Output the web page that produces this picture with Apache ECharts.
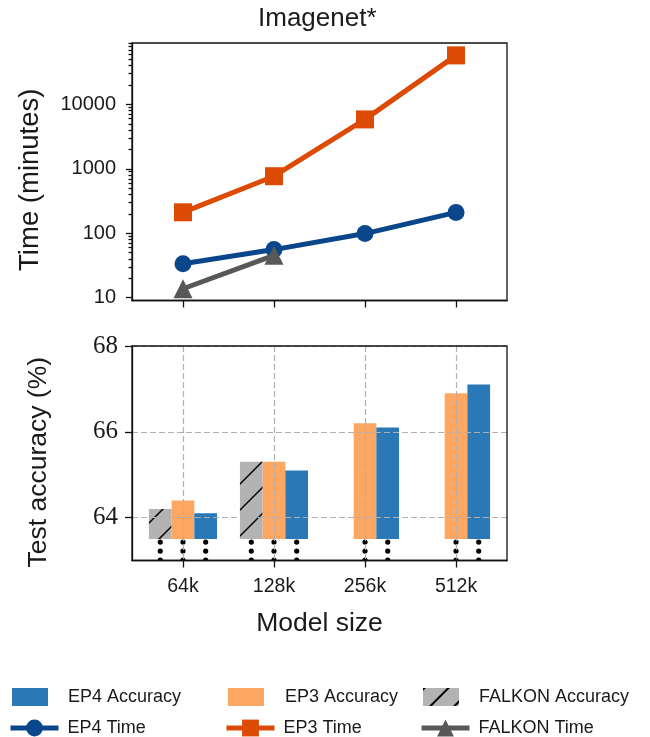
<!DOCTYPE html>
<html><head><meta charset="utf-8">
<script src="https://cdn.jsdelivr.net/npm/echarts@6/dist/echarts.min.js"></script>
<style>html,body{margin:0;padding:0;background:#fff}#c{width:650px;height:737px}</style>
</head><body><div id="c"></div>
<script>
// ---- data ----
const categories = ['64k', '128k', '256k', '512k'];
const ep4Time = [33.4, 55.6, 98.6, 210];
const ep3Time = [211, 767, 5850, 57800];
const falkonTime = [13.7, 45.3, null, null];
const falkonAcc = [64.2, 65.3, null, null];
const ep3Acc = [64.4, 65.3, 66.2, 66.9];
const ep4Acc = [64.1, 65.1, 66.1, 67.1];
const timeTickLabels = [10, 100, 1000, 10000];
const accTickLabels = [64, 66, 68];
const accBase = 63.5;

// ---- styles ----
const SANS = 'Liberation Sans';
const SERIF = 'Liberation Serif';
const TXT = '#1a1a1a';
const BAR_W = 22.7;
const HATCH_STEP = 26, HATCH_PHASE = 22;
const C = {
  ep4Line: '#0a468a', ep3Line: '#dc4a04', falLine: '#585858',
  ep4Bar: '#2a78b6', ep3Bar: '#fda762', falBar: '#b3b3b3'
};
const legendHatch = { symbol: 'rect', symbolSize: 1, color: '#000', dashArrayX: [1, 0], dashArrayY: [1.6, 15], rotation: -Math.PI / 4 };

const idx = categories.map((_, i) => i);
const minorTicks = [];
[10, 100, 1000, 10000].forEach(d => { for (let k = 2; k <= 9; k++) minorTicks.push(k * d); });

function pairs(arr) { return idx.filter(i => arr[i] != null).map(i => [i, arr[i]]); }

const accMethods = [
  { name: 'FALKON Accuracy', vals: falkonAcc, color: C.falBar, hatched: true },
  { name: 'EP3 Accuracy', vals: ep3Acc, color: C.ep3Bar },
  { name: 'EP4 Accuracy', vals: ep4Acc, color: C.ep4Bar }
];

function makeBarRender(mi, hatched) {
  return function (params, api) {
    const top = api.coord([api.value(0), api.value(1)]);
    const base = api.coord([api.value(0), accBase]);
    const cx = top[0] + (mi - 1) * BAR_W;
    const x0 = cx - BAR_W / 2;
    const h = base[1] - top[1];
    const rect = { x: x0, y: top[1], width: BAR_W, height: h };
    const children = [{ type: 'rect', shape: rect, style: { fill: api.visual('color') } }];
    if (hatched) {
      const lines = [];
      const sMin = x0 + top[1], sMax = x0 + BAR_W + base[1];
      let s = Math.ceil((sMin - HATCH_PHASE) / HATCH_STEP) * HATCH_STEP + HATCH_PHASE;
      for (; s <= sMax; s += HATCH_STEP) {
        const xa = x0 - 4, xb = x0 + BAR_W + 4;
        lines.push({ type: 'line', shape: { x1: xa, y1: s - xa, x2: xb, y2: s - xb }, style: { stroke: '#000', lineWidth: 1.5 } });
      }
      children.push({ type: 'group', children: lines, clipPath: { type: 'rect', shape: rect } });
    }
    for (let k = 0; k < 3; k++) {
      children.push({ type: 'circle', shape: { cx: cx, cy: base[1] + 3 + k * 9, r: 2.6 }, style: { fill: '#000' } });
    }
    return { type: 'group', children };
  };
}

const series = [
  { name: 'EP4 Time', type: 'line', xAxisIndex: 0, yAxisIndex: 0, data: pairs(ep4Time),
    symbol: 'circle', symbolSize: 17, lineStyle: { width: 5, color: C.ep4Line }, itemStyle: { color: C.ep4Line }, z: 3 },
  { name: 'EP3 Time', type: 'line', xAxisIndex: 0, yAxisIndex: 0, data: pairs(ep3Time),
    symbol: 'rect', symbolSize: 18, lineStyle: { width: 5, color: C.ep3Line }, itemStyle: { color: C.ep3Line }, z: 3 },
  { name: 'FALKON Time', type: 'line', xAxisIndex: 0, yAxisIndex: 0, data: pairs(falkonTime),
    symbol: 'triangle', symbolSize: 19, lineStyle: { width: 5, color: C.falLine }, itemStyle: { color: C.falLine }, z: 4 }
];
accMethods.forEach((m, mi) => {
  series.push({ name: m.name, type: 'custom', xAxisIndex: 1, yAxisIndex: 2, clip: true,
    encode: { x: 0, y: 1 }, data: pairs(m.vals), itemStyle: { color: m.color },
    renderItem: makeBarRender(mi, !!m.hatched) });
});

const axisLine = { show: true, onZero: false, lineStyle: { color: '#111', width: 1.3 } };
const tickStyle = { color: '#111', width: 1.3 };
const dashed = { show: true, lineStyle: { color: '#b0b0b0', width: 1.2, type: [6, 3] } };
const X_MIN = -0.56, X_MAX = 3.56;

function legendItem(name, left, top, opts) {
  return Object.assign({ data: [name], left, top, padding: 0, itemGap: 0 }, opts);
}
function lt(pad) { return { fontFamily: SANS, fontSize: 18, color: TXT, padding: [0, 0, 0, pad] }; }

const option = {
  animation: false,
  backgroundColor: '#fff',
  title: { text: 'Imagenet*', left: 258, top: 6, padding: 0,
    textStyle: { fontFamily: SANS, fontSize: 26, fontWeight: 'normal', color: TXT } },
  grid: [
    { left: 132, top: 43, width: 375, height: 257.5, show: true, borderColor: '#111', borderWidth: 1.3, backgroundColor: 'transparent' },
    { left: 132, top: 346, width: 375, height: 214.5, show: true, z: 6, borderColor: '#111', borderWidth: 1.3, backgroundColor: 'transparent' }
  ],
  xAxis: [
    { type: 'value', gridIndex: 0, min: X_MIN, max: X_MAX, axisLine,
      axisTick: { customValues: idx, length: 7, lineStyle: tickStyle }, axisLabel: { show: false }, splitLine: { show: false } },
    { type: 'value', gridIndex: 1, min: X_MIN, max: X_MAX, axisLine, z: 5,
      axisTick: { customValues: idx, length: 7, lineStyle: tickStyle },
      axisLabel: { customValues: idx, formatter: v => categories[Math.round(v)], margin: 16, fontFamily: SANS, fontSize: 19.5, color: TXT },
      splitLine: dashed,
      name: 'Model size', nameLocation: 'middle', nameGap: 50,
      nameTextStyle: { fontFamily: SANS, fontSize: 26.5, color: TXT } }
  ],
  yAxis: [
    { type: 'log', logBase: 10, gridIndex: 0, min: 9, max: 90000, axisLine,
      axisTick: { customValues: timeTickLabels, length: 6, lineStyle: tickStyle },
      axisLabel: { customValues: timeTickLabels, formatter: v => String(Math.round(v)), margin: 16, fontFamily: SANS, fontSize: 20, color: TXT },
      splitLine: { show: false },
      name: 'Time (minutes)', nameLocation: 'middle', nameGap: 88,
      nameTextStyle: { fontFamily: SANS, fontSize: 27.5, color: TXT, padding: [0, 16, 0, 0] } },
    { type: 'log', logBase: 10, gridIndex: 0, min: 9, max: 90000, position: 'left', offset: 0,
      axisLine: { show: false, onZero: false },
      axisTick: { customValues: minorTicks, length: 3.5, lineStyle: tickStyle },
      axisLabel: { show: false }, splitLine: { show: false } },
    { type: 'value', gridIndex: 1, min: 63, max: 68, axisLine, z: 5,
      axisTick: { customValues: accTickLabels, length: 7, lineStyle: tickStyle },
      axisLabel: { customValues: accTickLabels, margin: 14, fontFamily: SERIF, fontSize: 25, color: TXT },
      splitLine: dashed,
      name: 'Test accuracy (%)', nameLocation: 'middle', nameGap: 80,
      nameTextStyle: { fontFamily: SANS, fontSize: 26.5, color: TXT, padding: [0, 18, 0, 0] } }
  ],
  legend: [
    legendItem('EP4 Accuracy', 12, 688, { icon: 'rect', itemWidth: 36, itemHeight: 18, textStyle: lt(15) }),
    legendItem('EP3 Accuracy', 228, 688, { icon: 'rect', itemWidth: 36, itemHeight: 18, textStyle: lt(16) }),
    legendItem('FALKON Accuracy', 423, 688, { icon: 'rect', itemWidth: 36, itemHeight: 18, textStyle: lt(15), itemStyle: { decal: legendHatch } }),
    legendItem('EP4 Time', 8, 719, { itemWidth: 48, itemHeight: 21, lineStyle: { width: 5 }, textStyle: lt(4) }),
    legendItem('EP3 Time', 224, 719, { itemWidth: 48, itemHeight: 21, lineStyle: { width: 5 }, textStyle: lt(4) }),
    legendItem('FALKON Time', 419, 719, { itemWidth: 48, itemHeight: 21, lineStyle: { width: 5 }, textStyle: lt(4) })
  ],
  series
};
const chart = echarts.init(document.getElementById('c'), null, { renderer: 'canvas' });
chart.setOption(option);
</script></body></html>
